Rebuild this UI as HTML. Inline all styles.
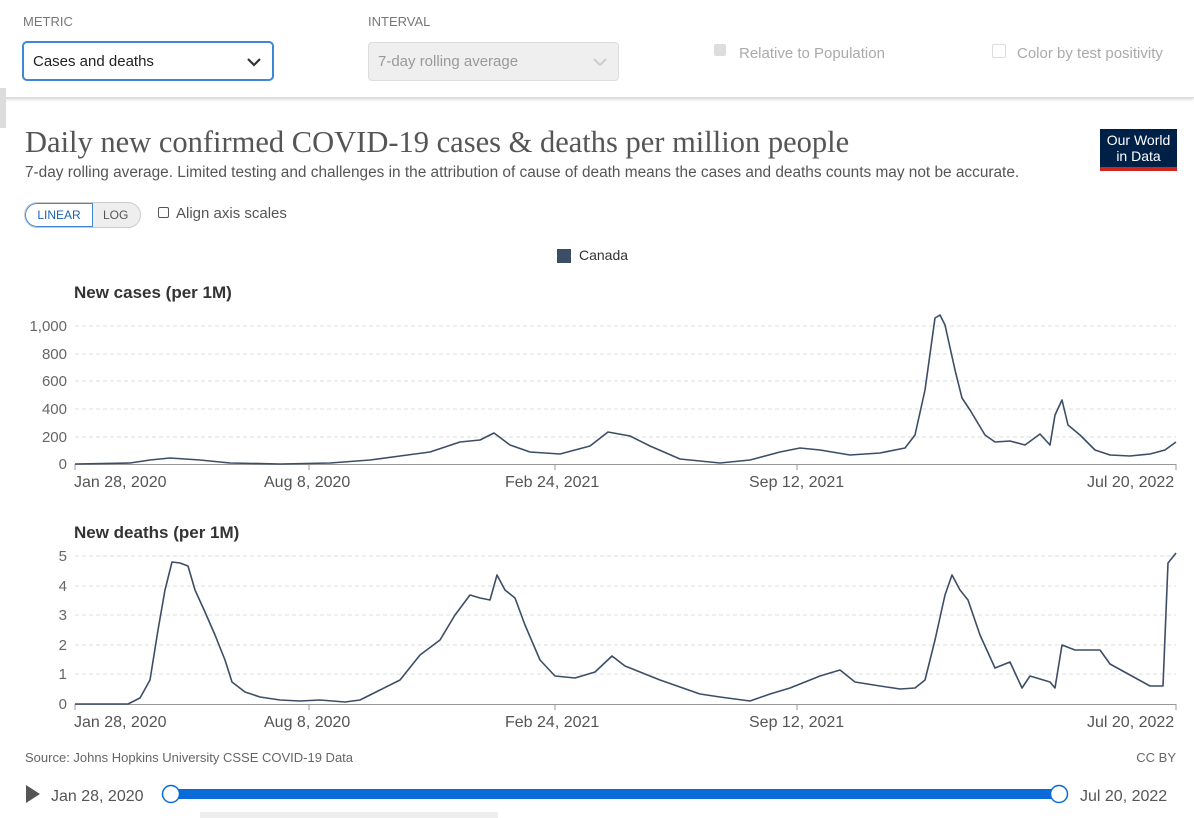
<!DOCTYPE html><html><head><meta charset="utf-8"><style>
body{margin:0;width:1194px;height:818px;background:#fff;font-family:"Liberation Sans",sans-serif;overflow:hidden;position:relative}
.a{position:absolute;white-space:nowrap}
</style></head><body>
<div class="a" style="left:0;top:0;width:1194px;height:97px;background:#fff;border-bottom:1px solid #ddd;box-shadow:0 1px 3px #ccc"></div>
<div class="a" style="left:0;top:88px;width:6px;height:40px;background:#ddd"></div>
<div class="a" style="left:23px;top:14px;font-size:13px;color:#777">METRIC</div>
<div class="a" style="left:368px;top:14px;font-size:13px;color:#777">INTERVAL</div>
<div class="a" style="left:22px;top:41px;width:248px;height:36px;border:2px solid #3d87d6;border-radius:5px;font-size:15px;line-height:38px;color:#222;text-indent:9px">Cases and deaths<svg style="position:absolute;right:10px;top:14px" width="16" height="10"><polyline points="2,2 8,8 14,2" fill="none" stroke="#333" stroke-width="2.2"/></svg></div>
<div class="a" style="left:368px;top:42px;width:249px;height:37px;background:#efefef;border:1px solid #ddd;border-radius:4px;font-size:15px;line-height:38px;color:#999;text-indent:9px">7-day rolling average<svg style="position:absolute;right:10px;top:14px" width="16" height="10"><polyline points="2,2 8,8 14,2" fill="none" stroke="#ccc" stroke-width="2"/></svg></div>
<div class="a" style="left:714px;top:44px;width:12px;height:12px;background:#ddd;border-radius:2px"></div>
<div class="a" style="left:739px;top:45px;font-size:15px;color:#aaa">Relative to Population</div>
<div class="a" style="left:992px;top:44px;width:12px;height:12px;border:1px solid #ddd;border-radius:2px"></div>
<div class="a" style="left:1017px;top:45px;font-size:15px;color:#aaa">Color by test positivity</div>
<div class="a" style="left:25px;top:125px;font-family:'Liberation Serif',serif;font-size:30.5px;color:#555">Daily new confirmed COVID-19 cases &amp; deaths per million people</div>
<div class="a" style="left:25px;top:164px;font-size:15.4px;color:#555">7-day rolling average. Limited testing and challenges in the attribution of cause of death means the cases and deaths counts may not be accurate.</div>
<div class="a" style="left:1100px;top:129px;width:77px;height:42px;background:#002147;border-bottom:4px solid #ce261e;color:#fff;font-size:14px;text-align:center;line-height:16px;padding-top:3px;box-sizing:border-box">Our World<br>in Data</div>
<div class="a" style="left:24px;top:202px;width:115px;height:24px;border:1px solid #ccc;border-radius:13px;background:#eee;overflow:hidden"><div style="position:absolute;left:0;top:0;width:66px;height:22px;border:1px solid #3d87d6;border-radius:13px 0 0 13px;background:#fff;color:#1d62b0;font-size:12px;line-height:22px;text-align:center">LINEAR</div><div style="position:absolute;left:78px;top:0;font-size:12px;line-height:24px;color:#555">LOG</div></div>
<div class="a" style="left:158px;top:207px;width:9px;height:9px;border:1px solid #555;border-radius:2px"></div>
<div class="a" style="left:176px;top:205px;font-size:15px;color:#555">Align axis scales</div>
<div class="a" style="left:557px;top:249px;width:14px;height:14px;background:#3c4e66"></div>
<div class="a" style="left:579px;top:247px;font-size:14px;color:#333">Canada</div>
<div class="a" style="left:74px;top:283px;font-size:17px;font-weight:bold;color:#333">New cases (per 1M)</div>
<div class="a" style="left:74px;top:523px;font-size:17px;font-weight:bold;color:#333">New deaths (per 1M)</div>
<svg class="a" style="left:0;top:0" width="1194" height="818" font-family="Liberation Sans,sans-serif" font-size="15" fill="#666">
<g stroke="#ddd" stroke-dasharray="4,3">
<line x1="75" x2="1176" y1="326" y2="326"/><line x1="75" x2="1176" y1="354" y2="354"/><line x1="75" x2="1176" y1="381" y2="381"/><line x1="75" x2="1176" y1="409" y2="409"/><line x1="75" x2="1176" y1="437" y2="437"/>
<line x1="75" x2="1176" y1="556" y2="556"/><line x1="75" x2="1176" y1="586" y2="586"/><line x1="75" x2="1176" y1="615" y2="615"/><line x1="75" x2="1176" y1="645" y2="645"/><line x1="75" x2="1176" y1="674" y2="674"/>
</g>
<g stroke="#999"><line x1="75" x2="1176" y1="464.5" y2="464.5"/><line x1="75" x2="1176" y1="704.5" y2="704.5"/>
<line x1="75" x2="75" y1="464" y2="470"/><line x1="309" x2="309" y1="464" y2="470"/><line x1="555" x2="555" y1="464" y2="470"/><line x1="797" x2="797" y1="464" y2="470"/><line x1="1176" x2="1176" y1="464" y2="470"/>
<line x1="75" x2="75" y1="704" y2="710"/><line x1="309" x2="309" y1="704" y2="710"/><line x1="555" x2="555" y1="704" y2="710"/><line x1="797" x2="797" y1="704" y2="710"/><line x1="1176" x2="1176" y1="704" y2="710"/></g>
<g text-anchor="end"><text x="67" y="331">1,000</text><text x="67" y="359">800</text><text x="67" y="386">600</text><text x="67" y="414">400</text><text x="67" y="442">200</text><text x="67" y="469">0</text>
<text x="67" y="561">5</text><text x="67" y="591">4</text><text x="67" y="620">3</text><text x="67" y="650">2</text><text x="67" y="679">1</text><text x="67" y="709">0</text></g>
<g fill="#555" font-size="16"><text x="74" y="487">Jan 28, 2020</text><text x="264" y="487">Aug 8, 2020</text><text x="505" y="487">Feb 24, 2021</text><text x="749" y="487">Sep 12, 2021</text><text x="1087" y="487">Jul 20, 2022</text>
<text x="74" y="727">Jan 28, 2020</text><text x="264" y="727">Aug 8, 2020</text><text x="505" y="727">Feb 24, 2021</text><text x="749" y="727">Sep 12, 2021</text><text x="1087" y="727">Jul 20, 2022</text></g>
<g fill="none" stroke="#3c4e66" stroke-width="1.6" stroke-linejoin="round">
<polyline points="75,464 130,463 150,460 170,458 200,460 230,463 280,464 330,463 370,460 400,456 430,452 460,442 480,440 494,433 510,445 530,452 560,454 590,446 608,432 630,436 650,446 680,459 720,463 750,460 780,452 800,448 820,450 850,455 880,453 905,448 915,435 925,390 935,318 940,315 945,325 955,370 962,398 970,410 985,435 995,442 1010,441 1025,445 1040,434 1050,445 1055,415 1062,400 1068,425 1080,435 1095,450 1110,455 1130,456 1150,454 1165,450 1176,442"/>
<polyline points="75,704 128,704 140,698 150,680 158,630 165,590 172,562 180,563 188,566 195,590 205,612 215,635 225,660 232,682 245,692 260,697 280,700 300,701 320,700 345,702 360,700 380,690 400,680 420,655 440,640 455,615 470,595 480,598 490,600 497,575 505,590 515,598 525,625 540,660 555,676 575,678 595,672 612,656 625,666 640,672 660,680 680,687 700,694 720,697 750,701 770,694 790,688 810,680 820,676 840,670 855,682 880,686 900,689 915,688 925,680 935,640 945,595 952,575 960,590 968,600 980,635 995,668 1010,662 1022,688 1030,676 1050,682 1055,688 1062,645 1075,650 1090,650 1100,650 1110,664 1130,675 1150,686 1163,686 1168,563 1176,553"/>
</g>
<text x="25" y="762" font-size="13">Source: Johns Hopkins University CSSE COVID-19 Data</text>
<text x="1176" y="762" font-size="13" text-anchor="end">CC BY</text>
<polygon points="26,785 26,803 40,794" fill="#555"/>
<text x="51" y="801" font-size="16" fill="#555">Jan 28, 2020</text>
<text x="1080" y="801" font-size="16" fill="#555">Jul 20, 2022</text>
<rect x="171" y="789" width="888" height="10" fill="#0a6ad7"/>
<circle cx="171" cy="794" r="8.5" fill="#fff" stroke="#0a6ad7" stroke-width="1.5"/>
<circle cx="1059" cy="794" r="8.5" fill="#fff" stroke="#0a6ad7" stroke-width="1.5"/>
<rect x="200" y="812" width="298" height="6" fill="#eee"/>
</svg>
</body></html>
